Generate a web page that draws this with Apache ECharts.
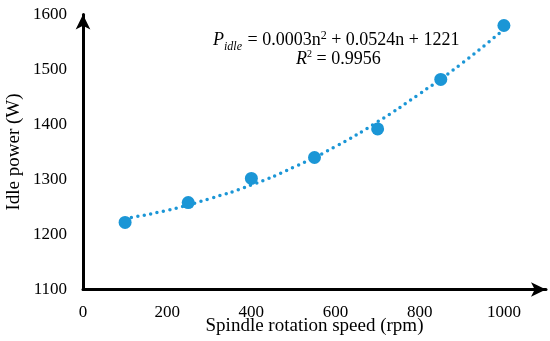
<!DOCTYPE html>
<html><head><meta charset="utf-8">
<script src="https://cdn.jsdelivr.net/npm/echarts@6/dist/echarts.min.js"></script>
<style>html,body{margin:0;padding:0;background:#fff}#c{width:550px;height:341px}</style>
</head><body><div id="c"></div>
<script>
var speeds = [100, 250, 400, 550, 700, 850, 1000];
var idlePower = [1222, 1258, 1302, 1340, 1392, 1482, 1580];
var trendSpeeds = [100, 200, 300, 400, 500, 600, 700, 800, 900, 1000];
var trendPower = [1229, 1244, 1265, 1290, 1322, 1360, 1405, 1456, 1511, 1573];
var xTicks = [0, 200, 400, 600, 800, 1000];
var yTicks = [1100, 1200, 1300, 1400, 1500, 1600];

var font = 'Liberation Serif';
var blue = '#1b96d6';
var chart = echarts.init(document.getElementById('c'));
chart.setOption({
  animation: false,
  grid: {left: 83, right: 4, top: 14.5, bottom: 51.5, outerBoundsMode: 'none', containLabel: false},
  xAxis: {
    type: 'value', min: 0, max: 1100, interval: 200,
    name: 'Spindle rotation speed (rpm)', nameLocation: 'middle', nameGap: 27, nameMoveOverlap: false,
    nameTextStyle: {fontFamily: font, fontSize: 19, color: '#000'},
    axisLine: {show: true, lineStyle: {color: '#000', width: 3}, symbol: ['none', 'arrow'], symbolSize: [11, 15]},
    axisTick: {show: false},
    splitLine: {show: false},
    axisLabel: {fontFamily: font, fontSize: 17, color: '#000', margin: 15, showMaxLabel: false,
      formatter: function (v) { return xTicks.indexOf(v) >= 0 ? String(v) : ''; }}
  },
  yAxis: {
    type: 'value', min: 1100, max: 1600, interval: 100,
    name: 'Idle power (W)', nameLocation: 'middle', nameGap: 59, nameMoveOverlap: false,
    nameTextStyle: {fontFamily: font, fontSize: 19, color: '#000'},
    axisLine: {show: true, lineStyle: {color: '#000', width: 3}, symbol: ['none', 'arrow'], symbolSize: [11, 15]},
    axisTick: {show: false},
    splitLine: {show: false},
    axisLabel: {fontFamily: font, fontSize: 17, color: '#000', margin: 16,
      formatter: function (v) { return yTicks.indexOf(v) >= 0 ? String(v) : ''; }}
  },
  series: [
    {
      type: 'line', smooth: true, showSymbol: false, z: 2,
      data: trendSpeeds.map(function (s, i) { return [s, trendPower[i]]; }),
      lineStyle: {color: blue, width: 3.5, type: [0, 6.5], cap: 'round'}
    },
    {
      type: 'scatter', symbolSize: 13, z: 3,
      data: speeds.map(function (s, i) { return [s, idlePower[i]]; }),
      itemStyle: {color: blue, opacity: 1}
    }
  ],
  graphic: [
    {
      type: 'text', left: 213, top: 29,
      style: {
        text: '{i|P}{sub|idle}{n| = 0.0003n}{sup|2}{n| + 0.0524n + 1221}',
        rich: {
          i: {fontFamily: font, fontSize: 18, fontStyle: 'italic', fill: '#000', verticalAlign: 'bottom', lineHeight: 20},
          sub: {fontFamily: font, fontSize: 12, fontStyle: 'italic', fill: '#000', verticalAlign: 'bottom', lineHeight: 14, padding: [0, 1, -4, 0]},
          n: {fontFamily: font, fontSize: 18, fill: '#000', verticalAlign: 'bottom', lineHeight: 20},
          sup: {fontFamily: font, fontSize: 12, fill: '#000', verticalAlign: 'top', lineHeight: 14, padding: [1, 0, 0, 0]}
        }
      }
    },
    {
      type: 'text', left: 296, top: 48,
      style: {
        text: '{i|R}{sup|2}{n| = 0.9956}',
        rich: {
          i: {fontFamily: font, fontSize: 18, fontStyle: 'italic', fill: '#000', verticalAlign: 'bottom', lineHeight: 20},
          n: {fontFamily: font, fontSize: 18, fill: '#000', verticalAlign: 'bottom', lineHeight: 20},
          sup: {fontFamily: font, fontSize: 10, fill: '#000', verticalAlign: 'top', lineHeight: 12, padding: [1, 0, 0, 0]}
        }
      }
    }
  ]
});
</script></body></html>
